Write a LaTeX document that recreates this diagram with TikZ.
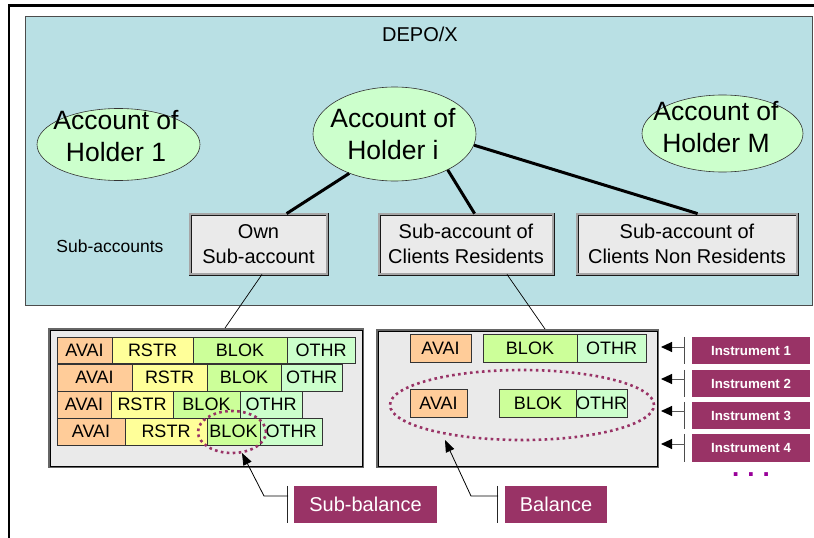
\documentclass[tikz,border=0pt]{standalone}
\usepackage{fontspec}
\setmainfont{Liberation Sans}
\usetikzlibrary{shapes.geometric,arrows.meta,calc}
\definecolor{cyanbg}{RGB}{185,224,228}
\definecolor{ellfill}{RGB}{204,255,204}
\definecolor{boxgray}{RGB}{234,234,234}
\definecolor{avai}{RGB}{255,204,153}
\definecolor{rstr}{RGB}{255,255,153}
\definecolor{blok}{RGB}{204,255,153}
\definecolor{othr}{RGB}{204,255,204}
\definecolor{instr}{RGB}{153,51,102}
\definecolor{dotpurple}{RGB}{153,0,153}
\newcommand\fs[2]{\fontsize{#1}{#2}\selectfont}
\newcommand\cellnode[7]{\node[cell,fill=#6,minimum width={#3-#2},minimum height={#5-#4}] (#1) at ({(#2+#3)/2},{(#4+#5)/2}) {#7};}
\begin{document}
\begin{tikzpicture}[x=1pt,y=-1pt,
  bgbox/.style={rectangle,draw=black!70,line width=0.8pt,fill=cyanbg,inner sep=0},
  acct/.style={ellipse,draw=black!80,line width=0.6pt,fill=ellfill,inner sep=0},
  accttxt/.style={align=center,font=\fs{26.5}{32},inner sep=0},
  subbox/.style={rectangle,draw=black!90,line width=0.8pt,double=gray!70,double distance=1.4pt,fill=boxgray,align=center,font=\fs{20}{25},inner sep=0},
  lowbox/.style={rectangle,draw=gray!80!black,line width=2pt,fill=boxgray,inner sep=0},
  cell/.style={rectangle,draw=black!80,line width=0.6pt,inner sep=0,font=\fs{18}{20}},
  dotell/.style={ellipse,draw=instr,line width=2.6pt,dash pattern=on 2.6pt off 3.4pt,inner sep=0},
  instrbox/.style={rectangle,fill=instr,text=white,font=\bfseries\fs{13.3}{15},inner sep=0},
  labbox/.style={rectangle,fill=instr,text=white,font=\fs{20}{24},inner sep=0},
  barline/.style={draw=gray!60!black,line width=1.2pt},
  thickline/.style={line width=3pt,black},
  thinline/.style={line width=0.7pt,black},
  harrow/.style={draw=gray!70!black,line width=1pt,-{Triangle[length=11pt,width=10pt,fill=black,color=black]}},
  elbow/.style={line width=0.8pt,black,-{Triangle[length=12pt,width=9pt]}}
]
\useasboundingbox (0,0) rectangle (814,538);
\fill[white] (0,0) rectangle (814,538);
\draw[line width=2.8pt] (9,540) -- (9,5.5) -- (816,5.5);

% DEPO/X area
\node[bgbox,minimum width=787,minimum height=289] (depo) at (418.5,160.5) {};
\node[font=\fs{20}{24}] (depot) at (420,34) {DEPO/X};

% account holders
\node[acct,minimum width=163,minimum height=72] (h1) at (118.5,144.5) {};
\node[accttxt] (h1t) at (116,136) {Account of\\Holder 1};
\node[acct,minimum width=163,minimum height=94] (hi) at (394.5,134) {};
\node[accttxt] (hit) at (393,134) {Account of\\Holder i};
\node[acct,minimum width=161,minimum height=77] (hm) at (722.5,133.5) {};
\node[accttxt] (hmt) at (716,127) {Account of\\Holder M};

% sub-accounts
\node[font=\fs{17.5}{20}] (subl) at (110,246) {Sub-accounts};
\node[subbox,minimum width=137,minimum height=60] (own) at (258.5,244) {Own\\Sub-account};
\node[subbox,minimum width=174,minimum height=60] (res) at (466,244) {Sub-account of\\Clients Residents};
\node[subbox,minimum width=220,minimum height=60] (nres) at (687,244) {Sub-account of\\Clients Non Residents};

\draw[thickline] (hi.221) -- ([xshift=97pt]own.north west);
\draw[thickline] (hi.326) -- ([xshift=96pt]res.north west);
\draw[thickline] (hi.352) -- ([xshift=121pt]nres.north west);

% lower boxes
\node[lowbox,minimum width=314,minimum height=138] (lb) at (206,398) {};
\draw[black,line width=0.7pt] ([xshift=2pt,yshift=-2pt]lb.north west) rectangle ([xshift=-2pt,yshift=2pt]lb.south east);
\node[lowbox,minimum width=281,minimum height=137] (rb) at (517.5,398.5) {};
\draw[black,line width=0.7pt] ([xshift=2pt,yshift=-2pt]rb.north west) rectangle ([xshift=-2pt,yshift=2pt]rb.south east);

\draw[thinline] ([xshift=3.5pt]own.south) -- ([xshift=19pt]lb.north);
\draw[thinline] ([xshift=41pt]res.south) -- ([xshift=27.5pt]rb.north);

% left cells
\cellnode{la1}{57}{112}{337}{363}{avai}{AVAI}
\cellnode{lr1}{112}{193}{337}{363}{rstr}{RSTR}
\cellnode{lb1}{193}{287}{337}{363}{blok}{BLOK}
\cellnode{lo1}{287}{355}{337}{363}{othr}{OTHR}
\cellnode{la2}{57}{132}{364}{391}{avai}{AVAI}
\cellnode{lr2}{132}{207}{364}{391}{rstr}{RSTR}
\cellnode{lb2}{207}{281}{364}{391}{blok}{BLOK}
\cellnode{lo2}{281}{342}{364}{391}{othr}{OTHR}
\cellnode{la3}{57}{111}{391}{418}{avai}{AVAI}
\cellnode{lr3}{111}{173}{391}{418}{rstr}{RSTR}
\cellnode{lb3}{173}{240}{391}{418}{blok}{BLOK}
\cellnode{lo3}{240}{302}{391}{418}{othr}{OTHR}
\cellnode{la4}{57}{125}{418}{445}{avai}{AVAI}
\cellnode{lr4}{125}{207}{418}{445}{rstr}{RSTR}
\cellnode{lb4}{207}{260}{418}{445}{blok}{BLOK}
\cellnode{lo4}{260}{322}{418}{445}{othr}{OTHR}

% right cells
\cellnode{ra1}{410}{471}{334}{362}{avai}{AVAI}
\cellnode{rb1}{483}{577}{334}{362}{blok}{BLOK}
\cellnode{ro1}{577}{646}{334}{362}{othr}{OTHR}
\cellnode{ra2}{410}{467}{389}{417}{avai}{AVAI}
\cellnode{rb2}{499}{577}{389}{417}{blok}{BLOK}
\cellnode{ro2}{577}{626}{389}{417}{othr}{OTHR}

% dotted ellipses
\node[dotell,minimum width=68,minimum height=42] (sbell) at (232,432) {};
\node[dotell,minimum width=264,minimum height=70] (bell) at (522,405) {};

% instruments
\node[instrbox,minimum width=118,minimum height=27] (in1) at (751,350.5) {Instrument 1};
\node[instrbox,minimum width=118,minimum height=27] (in2) at (751,383.5) {Instrument 2};
\node[instrbox,minimum width=118,minimum height=27] (in3) at (751,415.5) {Instrument 3};
\node[instrbox,minimum width=118,minimum height=28] (in4) at (751,448) {Instrument 4};
\foreach \i in {1,2,3,4}{
  \draw[barline] ([xshift=-7pt]in\i.north west) -- ([xshift=-7pt]in\i.south west);
}
\coordinate (b1) at (685,347); \coordinate (t1) at (661,347);
\coordinate (b2) at (685,379); \coordinate (t2) at (661,379);
\coordinate (b3) at (685,411); \coordinate (t3) at (661,411);
\coordinate (b4) at (685,444); \coordinate (t4) at (661,444);
\foreach \i in {1,2,3,4}{ \draw[harrow] (b\i) -- (t\i); }
\node[text=dotpurple,font=\bfseries\fs{26}{26},inner sep=0] (dots) at (751,475) {.\hspace{8pt}.\hspace{8pt}.};

% labels
\node[labbox,minimum width=143,minimum height=37] (sb) at (365.5,504.5) {Sub-balance};
\node[labbox,minimum width=102,minimum height=37] (bal) at (556,504.5) {Balance};
\draw[barline,black!85] ([xshift=-6pt]sb.north west) -- ([xshift=-6pt]sb.south west);
\draw[barline,black!85] ([xshift=-7pt]bal.north west) -- ([xshift=-7pt]bal.south west);
\coordinate (sbk) at (288,496); \coordinate (sbm) at (264,496); \coordinate (sbtip) at (242,453);
\coordinate (bk) at (498,496); \coordinate (bm) at (471,496); \coordinate (btip) at (445,440);
\draw[elbow] (sbk) -- (sbm) -- (sbtip);
\draw[elbow] (bk) -- (bm) -- (btip);
\end{tikzpicture}
\end{document}
